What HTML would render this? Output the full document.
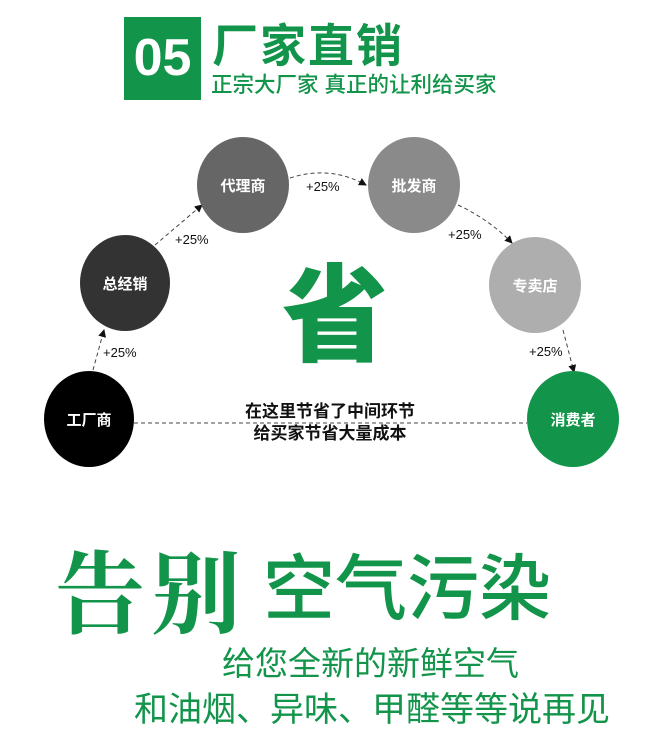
<!DOCTYPE html>
<html><head><meta charset="utf-8"><style>
body{margin:0;width:660px;height:752px;background:#fff;position:relative;overflow:hidden;font-family:"Liberation Sans","Noto Sans CJK SC",sans-serif}
.a{position:absolute;white-space:nowrap}
.g{color:#12944a}
</style></head><body>
<div class="a" style="left:124px;top:17px;width:77px;height:83px;background:#12944a"></div>
<div class="a" style="left:124px;top:17px;width:77px;height:83px;color:#fff;font:bold 52px 'Liberation Sans',sans-serif;line-height:83px;text-align:center">05</div>
<div class="a g" style="left:212px;top:18px;font-size:46px;font-weight:bold;line-height:56px;letter-spacing:2px">厂家直销</div>
<div class="a g" style="left:211px;top:72px;font-size:21.5px;font-weight:500;line-height:26px">正宗大厂家 真正的让利给买家</div>
<svg class="a" style="left:0;top:0" width="660" height="752">
<defs><marker id="m" markerWidth="8" markerHeight="8" refX="7" refY="4" orient="auto"><path d="M0,0L8,4L0,8z" fill="#111"/></marker></defs>
<g stroke="#444" stroke-width="1" stroke-dasharray="4,3" fill="none">
<path d="M93,370 L104,330" marker-end="url(#m)"/>
<path d="M155,245 L202,205" marker-end="url(#m)"/>
<path d="M290,178 Q330,165 366,185" marker-end="url(#m)"/>
<path d="M458,205 Q490,220 512,243" marker-end="url(#m)"/>
<path d="M563,330 L574,372" marker-end="url(#m)"/>
<path d="M134,423 L527,423"/>
</g>
<ellipse cx="89" cy="419" rx="45" ry="48" fill="#000"/>
<ellipse cx="125" cy="283" rx="45" ry="48" fill="#333"/>
<ellipse cx="243" cy="185" rx="46" ry="48" fill="#666"/>
<ellipse cx="414" cy="185" rx="46" ry="48" fill="#8a8a8a"/>
<ellipse cx="535" cy="285" rx="46" ry="48" fill="#aeaeae"/>
<ellipse cx="573" cy="419" rx="46" ry="48" fill="#12944a"/>
<g fill="#fff" font-size="15" font-weight="bold" text-anchor="middle" font-family="Liberation Sans,Noto Sans CJK SC,sans-serif">
<text x="89" y="425">工厂商</text><text x="125" y="289">总经销</text><text x="243" y="191">代理商</text>
<text x="414" y="191">批发商</text><text x="535" y="291">专卖店</text><text x="573" y="425">消费者</text>
</g>
<g fill="#111" font-size="13" font-family="Liberation Sans,sans-serif">
<text x="103" y="357">+25%</text><text x="175" y="244">+25%</text><text x="306" y="191">+25%</text>
<text x="448" y="239">+25%</text><text x="529" y="356">+25%</text>
</g>
</svg>
<div class="a g" style="left:282px;top:252px;font-size:106px;font-weight:900;line-height:130px">省</div>
<div class="a" style="left:0;width:660px;top:401px;text-align:center;font-size:17px;font-weight:bold;line-height:22px;color:#111">在这里节省了中间环节<br>给买家节省大量成本</div>
<div class="a g" style="left:55px;top:522px;font-family:'Noto Serif CJK SC',serif;font-size:90px;font-weight:bold;line-height:130px;letter-spacing:6px">告别</div>
<div class="a g" style="left:263px;top:548px;font-size:72px;font-weight:500;line-height:84px">空气污染</div>
<div class="a g" style="left:222px;top:643px;font-size:33px;line-height:42px">给您全新的新鲜空气</div>
<div class="a g" style="left:134px;top:688px;font-size:34px;line-height:44px">和油烟、异味、甲醛等等说再见</div>
</body></html>
